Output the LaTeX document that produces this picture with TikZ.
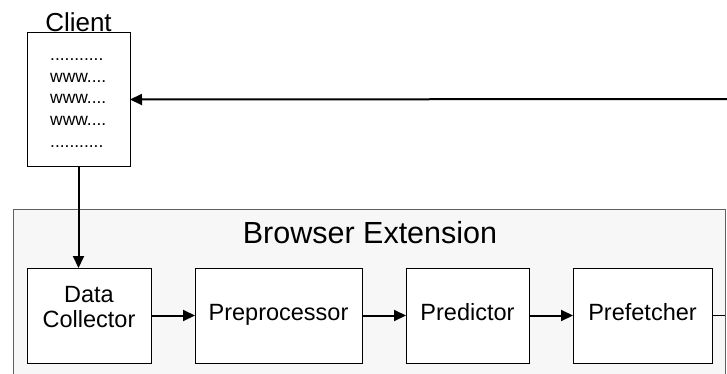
\documentclass[tikz,border=0pt]{standalone}
\usepackage{fontspec}
\setmainfont{Liberation Sans}
\usetikzlibrary{positioning,arrows.meta}
\definecolor{extgray}{HTML}{F7F7F7}
\definecolor{edgegray}{HTML}{606060}
\tikzset{
  stage/.style={draw=black, fill=white, line width=1pt, minimum height=95pt,
    inner sep=0pt, outer sep=0pt, align=center, font=\fontsize{23.5}{25}\selectfont},
  oneline/.style={text height=17pt, text depth=8pt},
  flow/.style={line width=2pt, -{Triangle[length=12pt,width=11pt]}},
}

\begin{document}
\begin{tikzpicture}[x=1pt,y=1pt]
\useasboundingbox (0,0) rectangle (727,373);
\clip (0,0) rectangle (727,373);
% extension frame
\node[draw=edgegray, fill=extgray, line width=1pt, minimum width=712pt,
  minimum height=174pt, inner sep=0pt, outer sep=0pt] (ext) at (369,77) {};
\node[anchor=base, font=\fontsize{30.5}{34}\selectfont] (title) at (370,130) {Browser Extension};

% stages
\node[stage, minimum width=124pt, text depth=17pt] (collector) at (89,57.5) {Data\\Collector};
\node[stage, oneline, minimum width=167pt, right=44pt of collector] (preproc) {Preprocessor};
\node[stage, oneline, minimum width=123pt, right=44pt of preproc] (predictor) {Predictor};
\node[stage, oneline, minimum width=139pt, right=44pt of predictor] (prefetcher) {Prefetcher};

% client page
\node[draw=black, fill=white, line width=1pt, minimum width=103pt,
  minimum height=133pt, inner sep=0pt, outer sep=0pt] (client) at (78.5,273.5) {};
\node[above=1.3pt of client, inner sep=0pt, font=\fontsize{26}{30}\selectfont] (clientname) {Client};
\node[anchor=north west, inner sep=0pt, align=left, font=\fontsize{17.4}{21.75}\selectfont]
  (history) at (50,314.8) {...........\\www....\\www....\\www....\\...........};

\coordinate (edge) at (727,274);
\draw[flow] (edge) -- (client.east);
\draw[flow] (client.south) -- (client.south |- collector.north);
\draw[flow] (collector.east) -- (preproc.west);
\draw[flow] (preproc.east) -- (predictor.west);
\draw[flow] (predictor.east) -- (prefetcher.west);
\draw[line width=1pt] (prefetcher.east) -- (prefetcher.east -| ext.east);
\end{tikzpicture}
\end{document}
